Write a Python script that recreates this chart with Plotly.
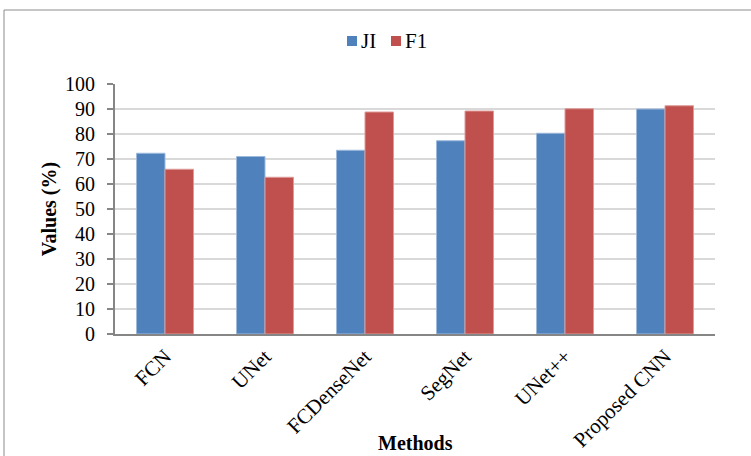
import plotly.graph_objects as go

methods = ["FCN", "UNet", "FCDenseNet", "SegNet", "UNet++", "Proposed CNN"]
ji_values = [72.3, 71.0, 73.5, 77.3, 80.3, 90.0]
f1_values = [65.9, 62.7, 88.8, 89.2, 90.1, 91.3]
y_ticks = list(range(0, 101, 10))
series_names = ["JI", "F1"]

SERIF = "Liberation Serif, Times New Roman, serif"
BLUE = "#4F81BD"
RED = "#C0504D"
colors = [BLUE, RED]

# plot area geometry (pixels) used to place the frame and legend in paper units
W, H = 751, 456
ML, MR, MT, MB = 115, 36, 84, 122
PW, PH = W - ML - MR, H - MT - MB


def px_x(x):
    return (x - ML) / PW


def px_y(y):
    return (H - MB - y) / PH


fig = go.Figure()
fig.add_trace(go.Bar(
    x=methods, y=ji_values, name=series_names[0],
    marker=dict(color=BLUE, line=dict(color="#9db9dc", width=1)),
))
fig.add_trace(go.Bar(
    x=methods, y=f1_values, name=series_names[1],
    marker=dict(color=RED, line=dict(color="#dc9a98", width=1)),
))

# chart-area frame
fig.add_shape(type="rect", xref="paper", yref="paper",
              x0=px_x(4), x1=px_x(800), y0=px_y(500), y1=px_y(10),
              line=dict(color="#8c8c8c", width=1), fillcolor="rgba(0,0,0,0)",
              layer="below")

# compact legend: coloured square followed by series name
legend_x = [347, 391]
for name, color, lx in zip(series_names, colors, legend_x):
    fig.add_shape(type="rect", xref="paper", yref="paper",
                  x0=px_x(lx), x1=px_x(lx + 10), y0=px_y(46), y1=px_y(36),
                  line=dict(width=0), fillcolor=color)
    fig.add_annotation(text=name, xref="paper", yref="paper",
                       x=px_x(lx + 12), y=px_y(41), xanchor="left", yanchor="middle",
                       showarrow=False, font=dict(family=SERIF, size=21, color="black"))

# category-axis title, placed beneath the slanted labels
fig.add_annotation(text="<b>Methods</b>", xref="paper", yref="paper",
                   x=px_x(415), y=px_y(456), xanchor="center", yanchor="bottom",
                   showarrow=False, font=dict(family=SERIF, size=20, color="black"))

fig.update_layout(
    width=W, height=H,
    margin=dict(l=ML, r=MR, t=MT, b=MB),
    paper_bgcolor="white", plot_bgcolor="white",
    barmode="group", bargap=0.43, bargroupgap=0,
    font=dict(family=SERIF, size=20, color="black"),
    showlegend=False,
    xaxis=dict(
        tickangle=-45, tickfont=dict(family=SERIF, size=21),
        showline=True, linecolor="#868686", linewidth=2,
        ticks="", showgrid=False, automargin=False,
    ),
    yaxis=dict(
        range=[0, 100], tickvals=y_ticks, tickfont=dict(family=SERIF, size=20),
        showline=True, linecolor="#868686", linewidth=2,
        ticks="outside", ticklen=6, tickcolor="#868686", tickwidth=2,
        ticklabelstandoff=8, automargin=False,
        showgrid=True, gridcolor="#d9d9d9", gridwidth=1.5,
        zeroline=False,
        title=dict(text="<b>Values (%)</b>", font=dict(family=SERIF, size=20), standoff=3),
    ),
)

fig.write_html("out.html")
